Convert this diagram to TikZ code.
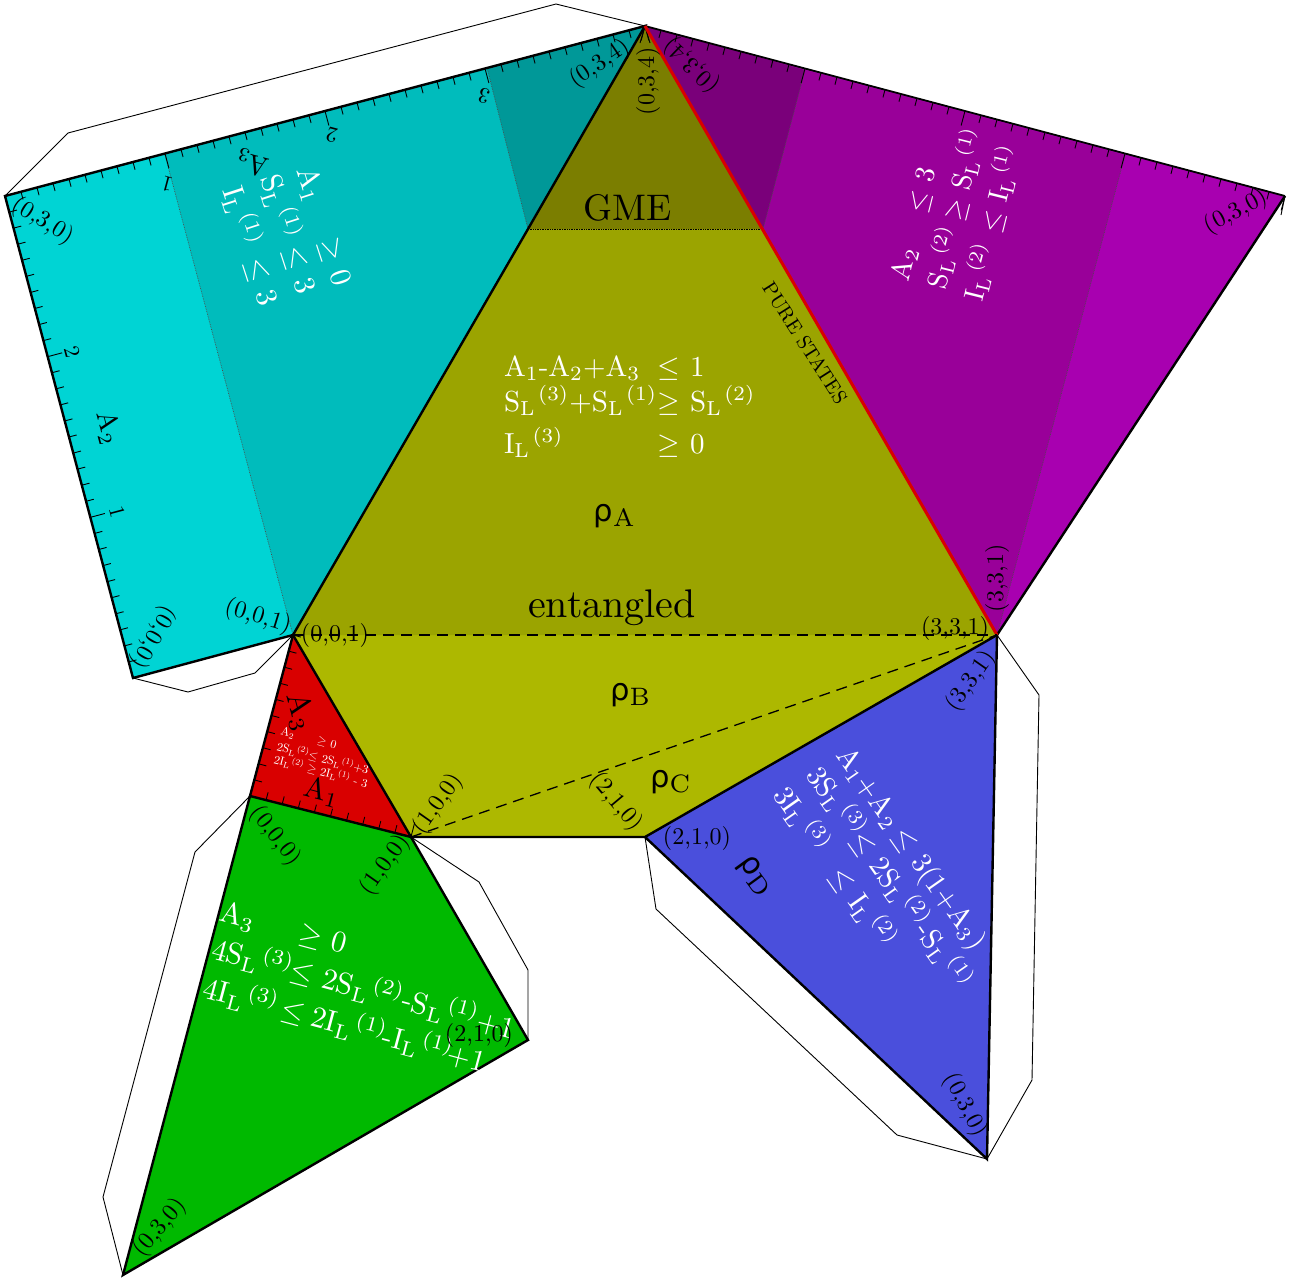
\documentclass[tikz,border=0pt]{standalone}
\usepackage{fontspec}
\newfontfamily\rhofont[Scale=0.85]{DejaVu Sans}
\usetikzlibrary{calc}
\definecolor{cyA}{HTML}{00D4D4}\definecolor{cyB}{HTML}{00BCBC}\definecolor{cyC}{HTML}{009898}
\definecolor{puA}{HTML}{A800B0}\definecolor{puB}{HTML}{990099}\definecolor{puC}{HTML}{7A007A}
\definecolor{olA}{HTML}{ADB800}\definecolor{olB}{HTML}{9BA400}\definecolor{olC}{HTML}{7B7E00}
\definecolor{redF}{HTML}{D90000}\definecolor{grnF}{HTML}{00B900}\definecolor{bluF}{HTML}{4A4FDC}
\newcommand\SSL[1]{S$_{\mathrm{L}}$\kern0.8pt$^{(#1)}$}
\newcommand\IIL[1]{I$_{\mathrm{L}}$\kern0.8pt$^{(#1)}$}
\newcommand\AAn[1]{A$_{#1}$}
\newcommand\RHO[1]{{\rhofont ρ}$_{\mathrm{#1}}$}
\newcommand\edgeticks[4]{% from, to, count, major every
  \foreach \i in {0,...,#3}{%
    \pgfmathsetmacro\tt{\i/#3}%
    \pgfmathsetmacro\ll{mod(\i,#4)==0?15:8}%
    \coordinate (off) at ($(#1)!\ll pt!-90:(#2)$);
    \draw[tick] ($(#1)!\tt!(#2)$) -- ($(#1)!\tt!(#2) + (off) - (#1)$);}}
\tikzset{
  fsz/.style={scale=#1/10},
  flap/.style={draw=black,line width=0.9pt,fill=white,line join=round},
  edge/.style={draw=black,line width=2.4pt,line join=miter},
  band/.style={draw=black!70,line width=0.7pt,densely dotted},
  tick/.style={draw=black,line width=0.9pt},
  dashline/.style={draw=black,line width=1.3pt,dash pattern=on 11pt off 7pt},
  lab/.style={inner sep=0pt,outer sep=0pt,text=black},
  wline/.style={inner sep=0pt,outer sep=0pt,text=white,anchor=base west},
  big/.style={inner sep=0pt,outer sep=0pt,text=black,fsz=36},
}
\begin{document}
\begin{tikzpicture}[x=1pt,y=1pt]
\useasboundingbox (0,0) rectangle (1299,-1280);
% vertices
\coordinate (T) at (645,-26);
\coordinate (L) at (293,-635);
\coordinate (R) at (997,-635);
\coordinate (B1) at (411,-837);
\coordinate (B2) at (645,-837);
\coordinate (GL) at (528,-229);
\coordinate (GR) at (763,-229);
\coordinate (C1) at (5,-196);
\coordinate (C2) at (133,-678);
\coordinate (CT1) at (165,-155);
\coordinate (CT3) at (487,-68);
\coordinate (P1) at (1285,-196);
\coordinate (PT1) at (805,-70);
\coordinate (PT3) at (1125,-155);
\coordinate (RD) at (250,-796);
\coordinate (G1) at (528,-1040);
\coordinate (G2) at (123,-1275);
\coordinate (BB) at (987,-1159);
% flaps
\draw[flap] (C1) -- (68,-133) -- (556,-4) -- (T);
\draw[flap] (C2) -- (188,-692) -- (255,-673) -- (L);
\draw[flap] (RD) -- (195,-852) -- (103,-1197) -- (G2);
\draw[flap] (B1) -- (479,-882) -- (528,-970) -- (G1);
\draw[flap] (B2) -- (656,-909) -- (897,-1135) -- (BB);
\draw[flap] (R) -- (1039,-695) -- (1032,-1080) -- (BB);
% cyan face
\fill[cyA] (C1) -- (T) -- (L) -- (C2) -- cycle;
\fill[cyB] (CT1) -- (CT3) -- (GL) -- (L) -- cycle;
\fill[cyC] (CT3) -- (T) -- (GL) -- cycle;
\draw[band] (CT1) -- (L);
\draw[band] (CT3) -- (GL);
% purple face
\fill[puA] (T) -- (P1) -- (R) -- cycle;
\fill[puB] (PT1) -- (PT3) -- (R) -- (GR) -- cycle;
\fill[puC] (T) -- (PT1) -- (GR) -- cycle;
\draw[band] (PT1) -- (GR);
\draw[band] (PT3) -- (R);
% olive face
\fill[olA] (L) -- (R) -- (B2) -- (B1) -- cycle;
\fill[olB] (T) -- (R) -- (L) -- cycle;
\fill[olC] (T) -- (GR) -- (GL) -- cycle;
\draw[band,draw=black] (GL) -- (GR);
% other faces
\fill[redF] (L) -- (B1) -- (RD) -- cycle;
\fill[grnF] (RD) -- (B1) -- (G1) -- (G2) -- cycle;
\fill[bluF] (B2) -- (R) -- (BB) -- cycle;
% ticks
\edgeticks{C1}{T}{40}{10}
\edgeticks{C2}{C1}{30}{10}
\edgeticks{T}{P1}{40}{10}
\edgeticks{RD}{L}{10}{100}
\edgeticks{B1}{RD}{10}{100}
\coordinate (ap1) at (640,-43);
\coordinate (ap2) at (650,-43);
\coordinate (cr1) at (1281,-215);
\draw[tick] (ap1) -- (T) -- (ap2);
\draw[tick] (P1) -- (cr1);
% edges
\draw[edge] (C2) -- (C1) -- (T) -- (GL) -- (L) -- cycle;
\draw[edge,line width=1.8pt] (T) -- (P1);
\draw[edge] (P1) -- (R);
\draw[edge] (L) -- (B1) -- (B2) -- (R);
\draw[edge] (L) -- (RD) -- (B1);
\draw[edge] (RD) -- (G2) -- (G1) -- (B1);
\draw[edge] (B2) -- (BB) -- (R);
\draw[draw=redF,line width=3pt] (T) -- (R);
\draw[dashline] (L) -- (R);
\draw[dashline] (B1) -- (R);
% big labels
\node[lab,fsz=37] (gme) at (628,-208) {GME};
\node[lab,fsz=40] (ent) at (612,-608) {entangled};
\node[big] (rhoA) at (615,-516) {\RHO{A}};
\node[big] (rhoB) at (631,-695) {\RHO{B}};
\node[big] (rhoC) at (671,-782) {\RHO{C}};
\node[big,rotate=-54] (rhoD) at (755,-877) {\RHO{D}};
\node[lab,fsz=20,rotate=-57.5] (pure) at (805,-343) {PURE STATES};
% main text
\node[wline,fsz=29] (m1) at (504,-376) {\makebox[53.1pt][l]{\AAn{1}-\AAn{2}+\AAn{3}}$\le$ 1};
\node[wline,fsz=29] (m2) at (504,-411) {\makebox[53.1pt][l]{\SSL{3}+\SSL{1}}$\ge$ \SSL{2}};
\node[wline,fsz=29] (m3) at (504,-453) {\makebox[53.1pt][l]{\IIL{3}}$\ge$ 0};
% cyan text
\node[wline,fsz=30,rotate=-72] (c1) at (296,-170) {\makebox[25pt][l]{\AAn{1}}$\ge$ 0};
\node[wline,fsz=30,rotate=-72] (c2) at (260,-178) {\makebox[25pt][l]{\SSL{1}}$\le$ 3};
\node[wline,fsz=30,rotate=-72] (c3) at (222,-190) {\makebox[25pt][l]{\IIL{1}}$\le$ 3};
% purple text
\node[wline,fsz=28,rotate=76] (p1) at (908,-282) {\makebox[25pt][l]{\AAn{2}}$\le$ 3};
\node[wline,fsz=28,rotate=76] (p2) at (945,-290) {\makebox[25pt][l]{\SSL{2}}$\ge$ \SSL{1}};
\node[wline,fsz=28,rotate=76] (p3) at (982,-302) {\makebox[25pt][l]{\IIL{2}}$\le$ \IIL{1}};
% red text
\node[wline,fsz=12,rotate=-15] (r1) at (280,-734) {\makebox[31.7pt][l]{\AAn{2}}$\ge$ 0};
\node[wline,fsz=12,rotate=-15] (r2) at (276,-750) {2\SSL{2}$\le$ 2\SSL{1}+3};
\node[wline,fsz=12,rotate=-15] (r3) at (273,-763) {2\IIL{2} $\ge$ 2\IIL{1} - 3};
% green text
\node[wline,fsz=30,rotate=-15] (g1) at (218,-920) {\makebox[27.5pt][l]{\AAn{3}}$\ge$ 0};
\node[wline,fsz=30,rotate=-15] (g2) at (210,-958) {\makebox[27pt][l]{4\SSL{3}}$\le$ 2\SSL{2}-\SSL{1}+1};
\node[wline,fsz=30,rotate=-15] (g3) at (201,-997) {\makebox[27pt][l]{4\IIL{3}}$\le$\kern-0.8pt\ 2\IIL{1}\kern-1pt-\IIL{1}\kern-1.3pt+1};
% blue text
\node[wline,fsz=29,rotate=-55] (b1) at (835,-755) {\makebox[34pt][l]{\AAn{1}+\AAn{2}}$\le$ 3(1+\AAn{3})};
\node[wline,fsz=29,rotate=-55] (b2) at (805,-775) {\makebox[27pt][l]{3\SSL{3}}$\le$ 2\SSL{2}-\SSL{1}};
\node[wline,fsz=29,rotate=-55] (b3) at (772,-795) {\makebox[34pt][l]{3\IIL{3}}$\le$ \IIL{2}};
% axis labels
\node[lab,fsz=28,rotate=-75] (a2) at (108,-428) {\AAn{2}};
\node[lab,fsz=28,rotate=165] (a3) at (252,-163) {\AAn{3}};
\node[lab,fsz=32,rotate=-75] (a3r) at (300,-712) {\AAn{3}};
\node[lab,fsz=30,rotate=-15] (a1r) at (322,-792) {\AAn{1}};
\node[lab,fsz=22,rotate=165] (n1) at (167,-184) {1};
\node[lab,fsz=22,rotate=165] (n2) at (332,-135) {2};
\node[lab,fsz=22,rotate=165] (n3) at (484,-96) {3};
\node[lab,fsz=22,rotate=-75] (n4) at (117,-512) {1};
\node[lab,fsz=22,rotate=-75] (n5) at (72,-352) {2};
% vertex labels
\tikzset{vlab/.style={lab,fsz=24}}
\node[vlab,rotate=-32] (v1) at (43,-221) {(0,3,0)};
\node[vlab,rotate=34] (v2) at (600,-64) {(0,3,4)};
\node[vlab,rotate=90] (v3) at (648,-81) {(0,3,4)};
\node[vlab,rotate=136] (v4) at (692,-65) {(0,3,4)};
\node[vlab,rotate=28] (v5) at (1236,-212) {(0,3,0)};
\node[vlab,rotate=90] (v6) at (997,-578) {(3,3,1)};
\node[vlab] (v7) at (955,-628) {(3,3,1)};
\node[vlab,rotate=55] (v8) at (971,-681) {(3,3,1)};
\node[vlab,rotate=-17] (v9) at (258,-617) {(0,0,1)};
\node[vlab] (v10) at (335,-635) {(0,0,1)};
\node[vlab,rotate=-120] (v11) at (153,-637) {(0,0,0)};
\node[vlab,rotate=-52] (v12) at (275,-836) {(0,0,0)};
\node[vlab,rotate=55] (v13) at (385,-865) {(1,0,0)};
\node[vlab,rotate=55] (v14) at (438,-804) {(1,0,0)};
\node[vlab,rotate=-50] (v15) at (616,-802) {(2,1,0)};
\node[vlab] (v16) at (697,-838) {(2,1,0)};
\node[vlab] (v17) at (479,-1035) {(2,1,0)};
\node[vlab,rotate=50] (v18) at (160,-1228) {(0,3,0)};
\node[vlab,rotate=-62] (v19) at (965,-1105) {(0,3,0)};
\end{tikzpicture}
\end{document}
